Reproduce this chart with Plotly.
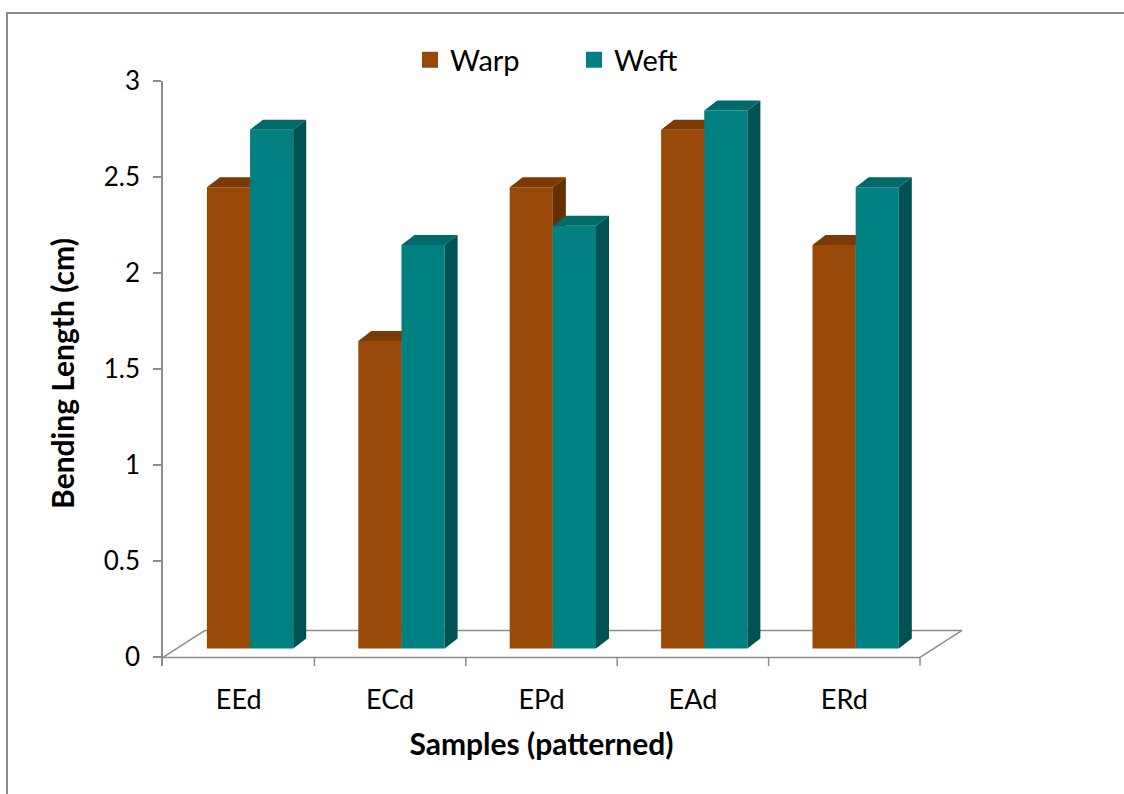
import plotly.graph_objects as go

categories = ["EEd", "ECd", "EPd", "EAd", "ERd"]
warp = [2.4, 1.6, 2.4, 2.7, 2.1]
weft = [2.7, 2.1, 2.2, 2.8, 2.4]
y_ticks = [0, 0.5, 1, 1.5, 2, 2.5, 3]
y_ticktext = ["0", "0.5", "1", "1.5", "2", "2.5", "3"]

# pseudo-3D geometry (in axis units)
PX_X = 151.4
PX_Y = 192.0
BASE = 9 / PX_Y
DX = 13 / PX_X
DY = 10 / PX_Y
W = 0.285
FLOOR_DX = 42 / PX_X
FLOOR_DY = 27 / PX_Y
Y_LOW = -8.6 / PX_Y
X_MAX = 5.0
Y_MAX = 3.0

PLOT_W = 757.0
PLOT_H = 584.6
L_MARGIN = 163
T_MARGIN = 81

FONT = "Lato"
GRAY = "#8c8c8c"

WARP_C = ("#984807", "#7a3905", "#652f04")
WEFT_C = ("#008080", "#006a6a", "#005252")


def faces(vals, off):
    tx, ty, sx, sy = [], [], [], []
    for i, v in enumerate(vals):
        x0 = i + off
        x1 = x0 + W
        y0 = BASE
        y1 = v + BASE
        tx += [x0, x1, x1 + DX, x0 + DX, x0, None]
        ty += [y1, y1, y1 + DY, y1 + DY, y1, None]
        sx += [x1, x1 + DX, x1 + DX, x1, x1, None]
        sy += [y0, y0 + DY, y1 + DY, y1, y0, None]
    return tx, ty, sx, sy


def px(x):
    return x / X_MAX


def py(y):
    return (y - Y_LOW) / (Y_MAX - Y_LOW)


fig = go.Figure()


def add_series(name, vals, off, cols, yaxis):
    fig.add_trace(go.Bar(
        name=name, x=[i + off + W / 2 for i in range(len(vals))], y=vals,
        base=BASE, width=W, marker=dict(color=cols[0], line=dict(width=0)),
        yaxis=yaxis, customdata=categories, legendgroup=name, showlegend=False,
        hovertemplate="%{customdata}: %{y}<extra>" + name + "</extra>"))
    tx, ty, sx, sy = faces(vals, off)
    fig.add_trace(go.Scatter(x=tx, y=ty, fill="toself", mode="lines",
                             line=dict(width=0), fillcolor=cols[1], legendgroup=name,
                             showlegend=False, hoverinfo="skip", yaxis=yaxis))
    fig.add_trace(go.Scatter(x=sx, y=sy, fill="toself", mode="lines",
                             line=dict(width=0), fillcolor=cols[2], legendgroup=name,
                             showlegend=False, hoverinfo="skip", yaxis=yaxis))
    # legend entry (square swatch)
    fig.add_trace(go.Scatter(x=[None], y=[None], mode="markers", name=name, legendgroup=name,
                             marker=dict(symbol="square", size=17, color=cols[0]),
                             yaxis=yaxis, hoverinfo="skip"))


add_series("Warp", warp, 0.29, WARP_C, "y")
add_series("Weft", weft, 0.29 + W, WEFT_C, "y2")

shapes = []
line = dict(color=GRAY, width=1.5)
n = len(categories)


def seg(x0, y0, x1, y1):
    return dict(type="line", xref="paper", yref="paper",
                x0=px(x0), y0=py(y0), x1=px(x1), y1=py(y1), line=line, layer="below")


# floor
shapes.append(seg(0, 0, n, 0))
shapes.append(seg(FLOOR_DX, FLOOR_DY, n + FLOOR_DX, FLOOR_DY))
shapes.append(seg(0, 0, FLOOR_DX, FLOOR_DY))
shapes.append(seg(n, 0, n + FLOOR_DX, FLOOR_DY))
for k in range(1, n + 1):
    shapes.append(seg(k, 0, k, Y_LOW))
# outer chart border
shapes.append(dict(type="rect", xref="paper", yref="paper",
                   x0=(7 - L_MARGIN) / PLOT_W, x1=(1135 - L_MARGIN) / PLOT_W,
                   y0=(T_MARGIN + PLOT_H - 810) / PLOT_H, y1=(T_MARGIN + PLOT_H - 13) / PLOT_H,
                   line=dict(color=GRAY, width=2), fillcolor="rgba(0,0,0,0)", layer="below"))

fig.update_layout(
    width=1124, height=794,
    margin=dict(l=L_MARGIN, r=1124 - L_MARGIN - PLOT_W, t=T_MARGIN, b=794 - T_MARGIN - PLOT_H, pad=0),
    paper_bgcolor="white", plot_bgcolor="white",
    barmode="overlay",
    font=dict(family=FONT, size=24, color="black"),
    shapes=shapes,
    showlegend=True,
    legend=dict(orientation="h", x=(410 - L_MARGIN) / PLOT_W, xanchor="left", y=1.036, yanchor="middle",
                font=dict(family=FONT, size=29, color="black"),
                entrywidth=119, entrywidthmode="pixels", bgcolor="rgba(0,0,0,0)"),
    xaxis=dict(range=[0, X_MAX], tickvals=[i + 0.5 for i in range(n)], ticktext=categories,
               showgrid=False, zeroline=False, showline=False, ticks="",
               tickfont=dict(family=FONT, size=27, color="black"), ticklabelstandoff=15,
               title=dict(text="<b>Samples (patterned)</b>", font=dict(family=FONT, size=30, color="black"),
                          standoff=19),
               fixedrange=True),
    yaxis=dict(range=[Y_LOW, Y_MAX], tickvals=y_ticks, ticktext=y_ticktext,
               showgrid=False, zeroline=False, showline=True, linecolor=GRAY, linewidth=1.5,
               ticks="outside", ticklen=8, tickcolor=GRAY, tickwidth=1.5,
               tickfont=dict(family=FONT, size=26, color="black"), ticklabelstandoff=8,
               title=dict(text="<b>Bending Length (cm)</b>", font=dict(family=FONT, size=30, color="black"),
                          standoff=20),
               fixedrange=True),
    yaxis2=dict(range=[Y_LOW, Y_MAX], overlaying="y", visible=False, fixedrange=True),
)

fig.write_html("out.html")
